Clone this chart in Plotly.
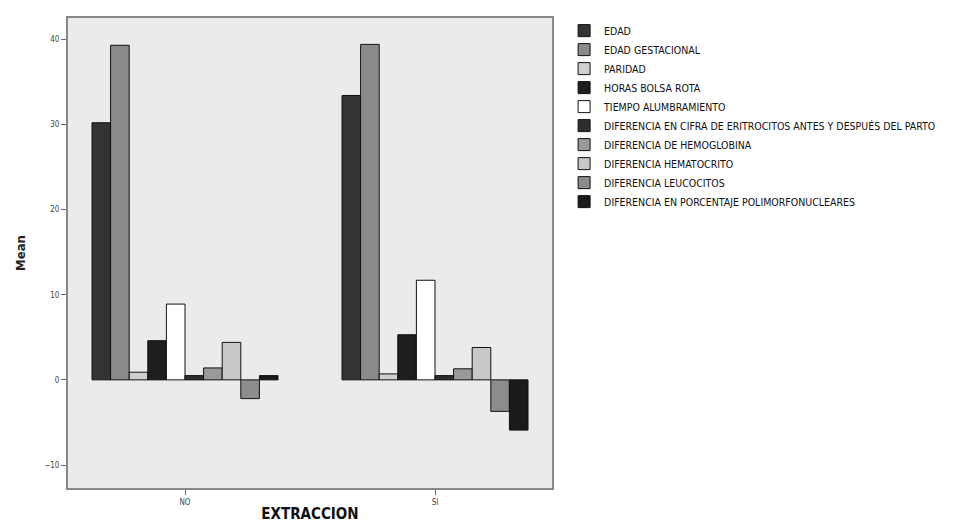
import plotly.graph_objects as go

categories = ["NO", "SI"]
series_names = [
    "EDAD",
    "EDAD GESTACIONAL",
    "PARIDAD",
    "HORAS BOLSA ROTA",
    "TIEMPO ALUMBRAMIENTO",
    "DIFERENCIA EN CIFRA DE ERITROCITOS ANTES Y DESPUÉS DEL PARTO",
    "DIFERENCIA DE HEMOGLOBINA",
    "DIFERENCIA HEMATOCRITO",
    "DIFERENCIA LEUCOCITOS",
    "DIFERENCIA EN PORCENTAJE POLIMORFONUCLEARES",
]
values_no = [30.2, 39.3, 0.9, 4.6, 8.9, 0.5, 1.4, 4.4, -2.2, 0.5]
values_si = [33.4, 39.4, 0.7, 5.3, 11.7, 0.5, 1.3, 3.8, -3.7, -5.9]
y_ticks = [-10, 0, 10, 20, 30, 40]

colors = ["#333333", "#8a8a8a", "#cfcfcf", "#1e1e1e", "#ffffff",
          "#2e2e2e", "#9a9a9a", "#c8c8c8", "#8c8c8c", "#1a1a1a"]

font_fam = "Liberation Sans Narrow, DejaVu Sans Condensed, Liberation Sans, Arial"

fig = go.Figure()
for i, name in enumerate(series_names):
    fig.add_trace(go.Bar(
        x=categories,
        y=[values_no[i], values_si[i]],
        name=name,
        marker=dict(color=colors[i], line=dict(color="#111111", width=1)),
    ))

fig.update_layout(
    width=947, height=517,
    margin=dict(l=60, r=403, t=10, b=37, autoexpand=False),
    paper_bgcolor="white",
    plot_bgcolor="#ebebeb",
    barmode="group",
    bargap=0.256,
    bargroupgap=0,
    font=dict(family=font_fam, color="#222222"),
    showlegend=True,
    legend=dict(
        x=1.025, y=1.004, xanchor="left", yanchor="top",
        font=dict(size=10.5, family=font_fam, color="#111111"),
        bgcolor="rgba(0,0,0,0)",
        tracegroupgap=0,
        itemwidth=30,
    ),
    xaxis=dict(
        range=[-0.468, 1.468],
        automargin=False,
        showline=True, linecolor="#888888", linewidth=2, mirror=True,
        ticks="outside", ticklen=5, tickcolor="#666666",
        tickfont=dict(size=8, color="#444444"),
        title=dict(text="<b>EXTRACCION</b>", font=dict(size=15, color="#111111"), standoff=3),
        showgrid=False,
    ),
    yaxis=dict(
        range=[-12.7, 42.5],
        automargin=False,
        tickvals=y_ticks,
        showline=True, linecolor="#888888", linewidth=2, mirror=True,
        ticks="outside", ticklen=5, tickcolor="#666666",
        tickfont=dict(size=8, color="#444444"),
        title=dict(text="<b>Mean</b>", font=dict(size=13, color="#222222"), standoff=16),
        showgrid=False, zeroline=False,
    ),
)

fig.write_html("out.html")
